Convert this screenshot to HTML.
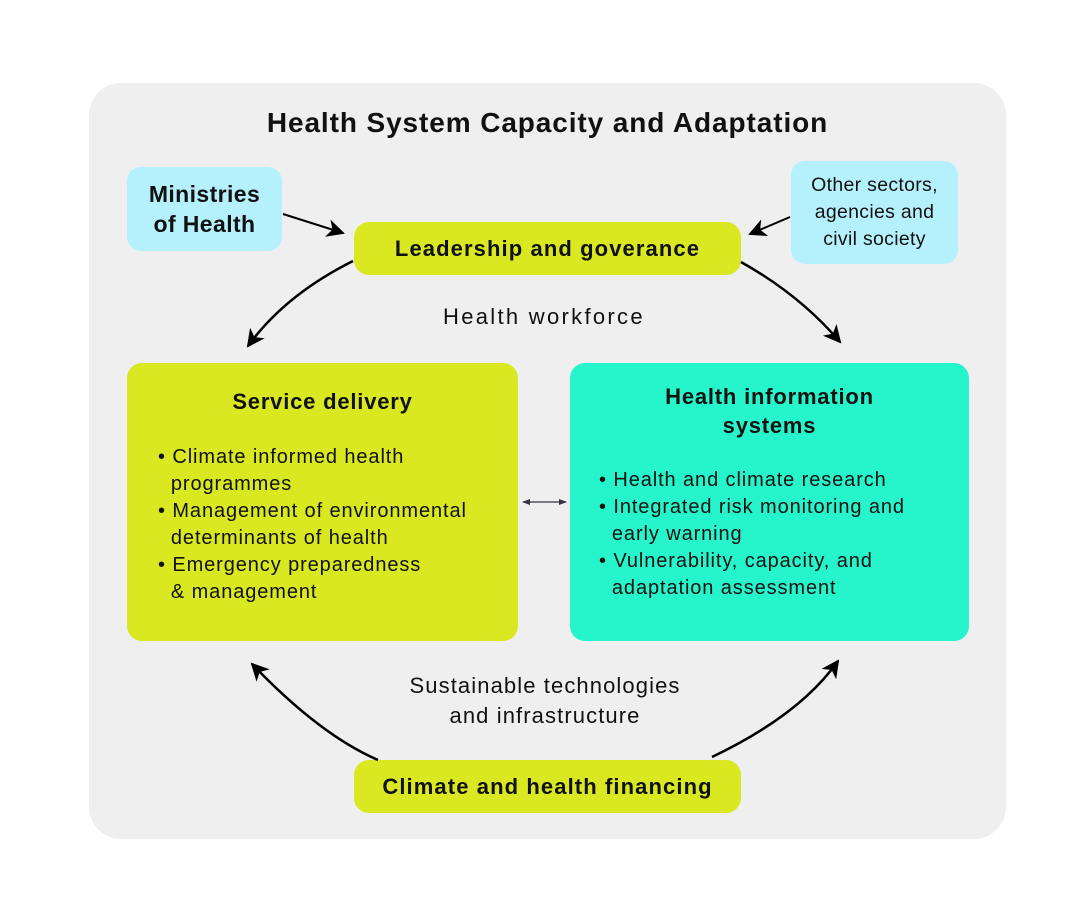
<!DOCTYPE html>
<html><head><meta charset="utf-8"><style>
body{margin:0;width:1090px;height:907px;background:#fff;position:relative;font-family:"Liberation Sans",sans-serif;color:#111;overflow:hidden}
.a{position:absolute;box-sizing:border-box}
.panel{left:89px;top:83px;width:917px;height:756px;background:#efefef;border-radius:32px}
.blue{background:#b5f1fc;border-radius:14px;display:flex;align-items:center;justify-content:center;text-align:center}
.yel{background:#d9e821;border-radius:15px;display:flex;align-items:center;justify-content:center;font-size:22px;font-weight:bold;letter-spacing:1.1px}
.t{position:absolute;text-align:center;white-space:nowrap}
.l{position:absolute;white-space:nowrap;font-size:20px;line-height:27px;letter-spacing:0.9px}
</style></head><body>
<div class="a panel"></div>
<div class="t" style="left:0;width:1095px;top:107px;font-size:28px;font-weight:bold;letter-spacing:0.9px">Health System Capacity and Adaptation</div>
<div class="a blue" style="left:127px;top:167px;width:155px;height:84px;font-size:23px;font-weight:bold;line-height:30px;letter-spacing:0.4px">Ministries<br>of Health</div>
<div class="a blue" style="left:791px;top:161px;width:167px;height:103px;font-size:19.5px;line-height:27px;letter-spacing:0.3px">Other sectors,<br>agencies and<br>civil society</div>
<div class="a yel" style="left:354px;top:222px;width:387px;height:53px">Leadership and goverance</div>
<div class="a yel" style="left:354px;top:760px;width:387px;height:53px">Climate and health financing</div>
<div class="t" style="left:443px;top:304px;font-size:22px;letter-spacing:2.3px">Health workforce</div>
<div class="t" style="left:370px;top:671px;width:350px;font-size:22px;line-height:30px;letter-spacing:1.1px">Sustainable technologies<br>and infrastructure</div>
<div class="a" style="left:127px;top:363px;width:391px;height:278px;background:#d9e821;border-radius:15px">
<div class="t" style="left:0;width:391px;top:26px;font-size:22px;font-weight:bold;letter-spacing:0.8px">Service delivery</div>
<div class="l" style="left:31px;top:81px">• Climate informed health<br>&nbsp;&nbsp;programmes<br>• Management of environmental<br>&nbsp;&nbsp;determinants of health<br>• Emergency preparedness<br>&nbsp;&nbsp;&amp; management</div>
</div>
<div class="a" style="left:570px;top:363px;width:399px;height:278px;background:#26f5cc;border-radius:15px">
<div class="t" style="left:0;width:399px;top:19px;font-size:22px;font-weight:bold;line-height:29px;letter-spacing:0.8px">Health information<br>systems</div>
<div class="l" style="left:29px;top:104px">• Health and climate research<br>• Integrated risk monitoring and<br>&nbsp;&nbsp;early warning<br>• Vulnerability, capacity, and<br>&nbsp;&nbsp;adaptation assessment</div>
</div>
<svg class="a" style="left:0;top:0" width="1090" height="907">
<defs>
<marker id="M" markerWidth="20" markerHeight="18" refX="16" refY="9" orient="auto" markerUnits="userSpaceOnUse"><path d="M0,0 L18,9 L0,18 L5,9z" fill="#000"/></marker>
<marker id="s" markerWidth="8" markerHeight="8" refX="7" refY="4" orient="auto-start-reverse" markerUnits="userSpaceOnUse"><path d="M0,1 L8,4 L0,7z" fill="#334"/></marker>
</defs>
<g fill="none" stroke="#000" stroke-width="2.5">
<path d="M283,214 L343,233" marker-end="url(#M)" stroke-width="2"/>
<path d="M790,217 L750,234" marker-end="url(#M)" stroke-width="2"/>
<path d="M353,261 Q285,295 248,346" marker-end="url(#M)"/>
<path d="M741,262 Q800,295 840,342" marker-end="url(#M)"/>
<path d="M378,760 Q320,735 252,664" marker-end="url(#M)"/>
<path d="M712,757 Q800,715 838,661" marker-end="url(#M)"/>
<path d="M523,502 L566,502" stroke="#334" stroke-width="1.3" marker-start="url(#s)" marker-end="url(#s)"/>
</g></svg>
</body></html>
